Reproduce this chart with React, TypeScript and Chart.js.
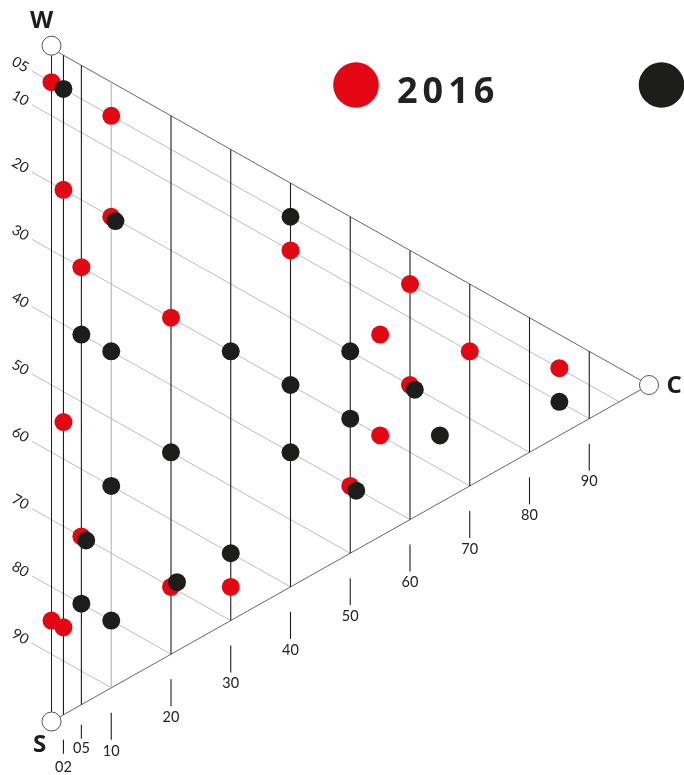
import { useEffect, useRef } from "react";
import { Chart, registerables } from "chart.js";

Chart.register(...registerables);

// Ternary chart: W (top), S (bottom), C (right). Values in percent.
const seriesLabels = ["2016", "2017"];
const seriesColors = ["#e30613", "#1d1d1b"];

// 2016 (red) – C and S shares
const redC = [0, 10, 2, 10, 5, 20, 40, 60, 55, 70, 85, 60, 55, 2, 50, 5, 20, 30, 0, 2];
const redS = [5, 5, 20, 20, 30, 30, 10, 5, 15, 10, 5, 20, 30, 54.5, 40, 70, 70, 65, 85, 85];

// 2017 (black) – C and S shares
const blackC = [2, 10.7, 40, 5, 10, 30, 50, 40, 50, 60.8, 65, 85, 20, 40, 10, 51, 5.8, 30, 21, 5, 10];
const blackS = [5, 20.3, 5, 40, 40, 30, 20, 30, 30, 20.3, 25, 10, 50, 40, 60, 40.2, 70.2, 60, 68.8, 80, 80];

const sGridValues = [5, 10, 20, 30, 40, 50, 60, 70, 80, 90];
const sTickLabels = ["05", "10", "20", "30", "40", "50", "60", "70", "80", "90"];
const cGridValues = [2, 5, 10, 20, 30, 40, 50, 60, 70, 80, 90];
const cTickLabels = ["02", "05", "10", "20", "30", "40", "50", "60", "70", "80", "90"];
const vertexLabels = ["W", "S", "C"];

const toXY = (c: number, s: number) => ({ x: c, y: s + c / 2 });

const LABEL_FONT = '"Lato", "Open Sans", sans-serif';
const BOLD_FONT = '"Open Sans", "Noto Sans", sans-serif';

const ternaryPlugin = {
  id: "ternary",
  beforeDatasetsDraw(chart: any) {
    const { ctx } = chart;
    const xs = chart.scales.x;
    const ys = chart.scales.y;
    const px = (c: number, s: number): [number, number] => [
      xs.getPixelForValue(c),
      ys.getPixelForValue(s + c / 2),
    ];
    ctx.save();
    // constant-S gray lines with labels
    ctx.lineWidth = 1;
    sGridValues.forEach((s, i) => {
      const [x0, y0] = px(0, s);
      const [x1, y1] = px(100 - s, s);
      const slope = (y1 - y0) / (x1 - x0);
      const ext = 19.5;
      const sx = x0 - ext;
      const sy = y0 - ext * slope;
      ctx.strokeStyle = "#bcbcbc";
      ctx.beginPath();
      ctx.moveTo(sx, sy);
      ctx.lineTo(x1, y1);
      ctx.stroke();
      ctx.save();
      ctx.translate(sx, sy);
      ctx.rotate(Math.atan(slope));
      ctx.font = `400 14.5px ${LABEL_FONT}`;
      ctx.fillStyle = "#222";
      ctx.textAlign = "right";
      ctx.textBaseline = "middle";
      ctx.fillText(sTickLabels[i], -5, 0);
      ctx.restore();
    });
    // triangle edges (top and bottom)
    ctx.strokeStyle = "#666";
    ctx.lineWidth = 1;
    let [ax, ay] = px(0, 0);
    let [bx, by] = px(100, 0);
    ctx.beginPath();
    ctx.moveTo(ax, ay);
    ctx.lineTo(bx, by);
    ctx.stroke();
    [ax, ay] = px(0, 100);
    ctx.beginPath();
    ctx.moveTo(ax, ay);
    ctx.lineTo(bx, by);
    ctx.stroke();
    // left edge
    ctx.strokeStyle = "#1d1d1b";
    [ax, ay] = px(0, 0);
    [bx, by] = px(0, 100);
    ctx.beginPath();
    ctx.moveTo(ax, ay - 3);
    ctx.lineTo(bx, by);
    ctx.stroke();
    // constant-C vertical lines + bottom ticks
    cGridValues.forEach((c, i) => {
      const [x0, y0] = px(c, 0);
      const [x1, y1] = px(c, 100 - c);
      ctx.strokeStyle = c === 10 ? "#b5b5b5" : "#1d1d1b";
      ctx.lineWidth = 1.1;
      ctx.beginPath();
      ctx.moveTo(x0, y0);
      ctx.lineTo(x1, y1);
      ctx.stroke();
      const offs = c === 2 ? [25, 39, 53] : c === 5 ? [20, 34, 44] : [25, 52, 63];
      ctx.strokeStyle = "#1d1d1b";
      ctx.beginPath();
      ctx.moveTo(x1, y1 + offs[0]);
      ctx.lineTo(x1, y1 + offs[1]);
      ctx.stroke();
      ctx.font = `400 14.5px ${LABEL_FONT}`;
      ctx.fillStyle = "#222";
      ctx.textAlign = "center";
      ctx.textBaseline = "middle";
      ctx.fillText(cTickLabels[i], x1, y1 + offs[2]);
    });
    ctx.restore();
  },
  afterDatasetsDraw(chart: any) {
    const { ctx } = chart;
    const xs = chart.scales.x;
    const ys = chart.scales.y;
    const px = (c: number, s: number): [number, number] => [
      xs.getPixelForValue(c),
      ys.getPixelForValue(s + c / 2),
    ];
    ctx.save();
    const verts: [number, number][] = [px(0, 0), px(0, 100), px(100, 0)];
    verts[0] = [verts[0][0], verts[0][1] - 2.8];
    verts.forEach(([vx, vy]) => {
      ctx.beginPath();
      ctx.arc(vx, vy, 9.5, 0, Math.PI * 2);
      ctx.fillStyle = "#fff";
      ctx.fill();
      ctx.strokeStyle = "#555";
      ctx.lineWidth = 1;
      ctx.stroke();
    });
    ctx.font = `bold 24px ${BOLD_FONT}`;
    ctx.fillStyle = "#1d1d1b";
    ctx.textBaseline = "middle";
    ctx.textAlign = "center";
    ctx.fillText(vertexLabels[0], verts[0][0] - 10, verts[0][1] - 25);
    ctx.fillText(vertexLabels[1], verts[1][0] - 12, verts[1][1] + 24);
    ctx.textAlign = "left";
    ctx.fillText(vertexLabels[2], verts[2][0] + 17.5, verts[2][1] + 1);

    // legend
    const legendX = [356, 661.5];
    const legendY = 85;
    seriesLabels.forEach((lab, i) => {
      ctx.beginPath();
      ctx.arc(legendX[i], legendY, 22.8, 0, Math.PI * 2);
      ctx.fillStyle = seriesColors[i];
      ctx.fill();
      ctx.font = `bold 36px ${BOLD_FONT}`;
      (ctx as any).letterSpacing = "5px";
      ctx.fillStyle = "#222";
      ctx.textAlign = "left";
      ctx.textBaseline = "alphabetic";
      ctx.fillText(lab, legendX[i] + 41, legendY + 17.5);
    });
    ctx.restore();
  },
};

export default function App() {
  const ref = useRef<HTMLCanvasElement | null>(null);
  useEffect(() => {
    if (!ref.current) return;
    const chart = new Chart(ref.current, {
      type: "scatter",
      data: {
        datasets: [
          {
            label: seriesLabels[0],
            data: redC.map((c, i) => toXY(c, redS[i])),
            backgroundColor: seriesColors[0],
            borderWidth: 0,
            pointRadius: 9,
            order: 2,
            clip: false,
          } as any,
          {
            label: seriesLabels[1],
            data: blackC.map((c, i) => toXY(c, blackS[i])),
            backgroundColor: seriesColors[1],
            borderWidth: 0,
            pointRadius: 9,
            order: 1,
            clip: false,
          } as any,
        ],
      },
      options: {
        animation: false,
        responsive: false,
        maintainAspectRatio: false,
        layout: { padding: { left: 51.5, right: 35, top: 48.5, bottom: 53.5 } },
        scales: {
          x: { type: "linear", min: 0, max: 100, display: false },
          y: { type: "linear", min: 0, max: 100, reverse: true, display: false },
        },
        plugins: {
          legend: { display: false },
          tooltip: { enabled: false },
        },
        events: [],
      },
      plugins: [ternaryPlugin],
    });
    return () => chart.destroy();
  }, []);
  return (
    <div style={{ position: "absolute", left: 0, top: 0, width: 684, height: 775, overflow: "hidden", background: "#fff" }}>
      <canvas ref={ref} width={684} height={775} style={{ display: "block", width: 684, height: 775 }} />
    </div>
  );
}
